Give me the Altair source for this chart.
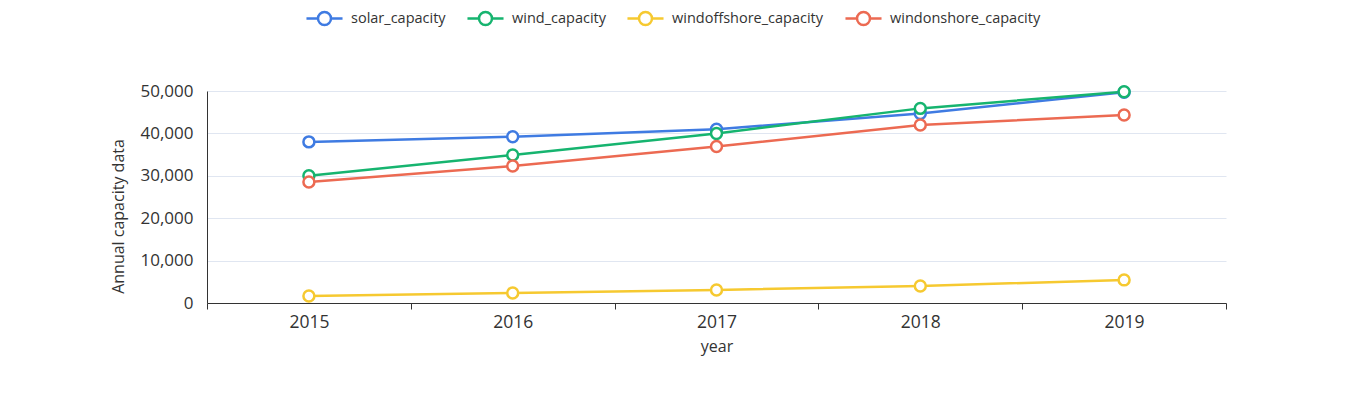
import altair as alt
import pandas as pd

years = ["2015", "2016", "2017", "2018", "2019"]
solar_capacity = [38000, 39200, 41000, 44700, 49700]
wind_capacity = [30000, 34900, 40000, 45900, 49800]
windoffshore_capacity = [1650, 2350, 3070, 4000, 5450]
windonshore_capacity = [28550, 32300, 36900, 42000, 44350]

series_names = ["solar_capacity", "wind_capacity", "windoffshore_capacity", "windonshore_capacity"]
series_values = [solar_capacity, wind_capacity, windoffshore_capacity, windonshore_capacity]
colors = ["#3f7be2", "#16b46f", "#f6c930", "#ec6a52"]
y_ticks = [0, 10000, 20000, 30000, 40000, 50000]

rows = []
for name, vals in zip(series_names, series_values):
    for y, v in zip(years, vals):
        rows.append({"year": y, "value": v, "series": name})
df = pd.DataFrame(rows)

FONT = "Open Sans"
legend_path = "M-1,0L-0.36,0M0.36,0L1,0M-0.36,0A0.36,0.36,0,1,1,0.36,0A0.36,0.36,0,1,1,-0.36,0Z"

x = alt.X("year:O", title="year",
          scale=alt.Scale(paddingInner=0, paddingOuter=0),
          axis=alt.Axis(labelAngle=0, tickBand="extent", domainColor="#333", tickColor="#333",
                        tickSize=6, labelFontSize=17.5, labelColor="#333", titleFontSize=16,
                        titleColor="#333", titleFontWeight="normal", labelPadding=4, titlePadding=8,
                        grid=False))
y = alt.Y("value:Q", title="Annual capacity data",
          scale=alt.Scale(domain=[0, 50000]),
          axis=alt.Axis(values=y_ticks, labelExpr="format(datum.value, ',')",
                        ticks=False, domainColor="#333", gridColor="#e0e6f1",
                        labelFontSize=17, labelColor="#333", titleFontSize=16, titleColor="#333",
                        titleFontWeight="normal", labelPadding=14,
                        titleX=-81, titleY=125))
color = alt.Color("series:N", scale=alt.Scale(domain=series_names, range=colors),
                  legend=alt.Legend(title=None, orient="none", legendX=98, legendY=-92,
                                    direction="horizontal", columns=4,
                                    symbolType=legend_path, symbolSize=1300,
                                    symbolStrokeWidth=2.5, symbolFillColor="white",
                                    labelFontSize=14.5, labelColor="#333", labelOffset=7,
                                    columnPadding=16))

base = alt.Chart(df)
lines = base.mark_line(strokeWidth=2.5).encode(x=x, y=y, color=color)
points = base.mark_point(filled=True, fill="white", size=120, strokeWidth=2.5, opacity=1).encode(
    x=x, y=y, stroke=alt.Stroke("series:N", scale=alt.Scale(domain=series_names, range=colors), legend=None))

chart = alt.layer(lines, points).properties(
    width=1019, height=212,
    autosize=alt.AutoSizeParams(type="none"),
    padding={"left": 199, "top": 83, "right": 130, "bottom": 60},
).configure(font=FONT).configure_view(stroke=None, strokeWidth=0)

chart.save("out.html", embed_options={"renderer": "svg", "actions": False})
